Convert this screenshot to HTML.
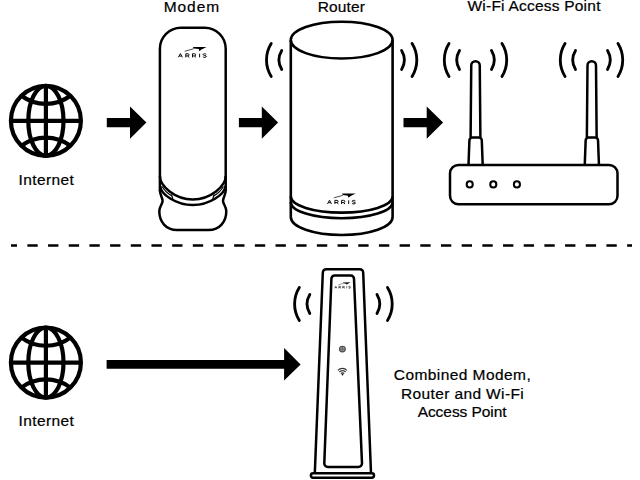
<!DOCTYPE html>
<html><head><meta charset="utf-8">
<style>
html,body{margin:0;padding:0;background:#fff;width:640px;height:480px;overflow:hidden}
svg{position:absolute;left:0;top:0}
text{font-family:"Liberation Sans",sans-serif;fill:#000;stroke:#000;stroke-width:0.22}
</style></head><body>
<svg width="640" height="480" viewBox="0 0 640 480">
<defs>
<g id="globe" fill="none" stroke="#000" stroke-width="4.2">
  <circle cx="0" cy="0" r="35"/>
  <ellipse cx="0" cy="0" rx="17.6" ry="35"/>
  <line x1="0" y1="-35" x2="0" y2="35"/>
  <line x1="-35" y1="0" x2="35" y2="0"/>
  <path d="M-24.5,-25 A41 41 0 0 0 24.5,-25"/>
  <path d="M-24.5,25 A41 41 0 0 1 24.5,25"/>
</g>
<g id="wl" fill="none" stroke="#000" stroke-width="2.85" stroke-linecap="round">
  <path d="M-15.99,-9.5 A18.6 18.6 0 0 0 -15.99,9.5"/>
  <path d="M-26.48,-16.5 A31.2 31.2 0 0 0 -26.48,16.5"/>
</g>
<g id="wr" fill="none" stroke="#000" stroke-width="2.85" stroke-linecap="round">
  <path d="M15.99,-9.5 A18.6 18.6 0 0 1 15.99,9.5"/>
  <path d="M26.48,-16.5 A31.2 31.2 0 0 1 26.48,16.5"/>
</g>
<g id="arris">
  <g fill="none" stroke="#000" stroke-width="0.95" stroke-linejoin="miter">
    <path d="M0.4,0 L2.4,-3.7 L4.4,0 M1.2,-1.2 H3.6"/>
    <path d="M7.8,0.1 V-3.55 H9.9 A1.1 1.1 0 0 1 9.9,-1.35 H7.8 M9.6,-1.35 L11.3,0.1"/>
    <path d="M14.5,0.1 V-3.55 H16.6 A1.1 1.1 0 0 1 16.6,-1.35 H14.5 M16.3,-1.35 L18,0.1"/>
    <path d="M21.6,0.1 V-3.6"/>
    <path d="M28.3,-3 C27.8,-3.7 25,-3.8 25,-2.7 C25,-1.6 28.5,-2 28.5,-0.9 C28.5,0.2 25.5,0.3 24.9,-0.5"/>
  </g>
  <path d="M6.7,-6 L15.8,-8.6" fill="none" stroke="#000" stroke-width="0.7"/>
  <path d="M14.9,-10.3 L28.5,-10.4 L23.6,-7.9 L21.3,-6.1 L20.8,-8.2 L15.8,-8.8 Z" fill="#000"/>
</g>
</defs>

<!-- labels -->
<text x="163.7" y="11.6" font-size="15.5" letter-spacing="0.93">Modem</text>
<text x="317.8" y="11.5" font-size="15.5" letter-spacing="0.13">Router</text>
<text x="467.5" y="11.3" font-size="15.5" letter-spacing="0.22">Wi-Fi Access Point</text>
<text x="18.6" y="185.2" font-size="15.5" letter-spacing="0.39">Internet</text>
<text x="18.6" y="426" font-size="15.5" letter-spacing="0.39">Internet</text>
<text x="462.5" y="379.5" font-size="15.5" text-anchor="middle" letter-spacing="0.43">Combined Modem,</text>
<text x="462.6" y="398.5" font-size="15.5" text-anchor="middle" letter-spacing="0.37">Router and Wi-Fi</text>
<text x="462.1" y="416.9" font-size="15.5" text-anchor="middle" letter-spacing="-0.06">Access Point</text>

<!-- globes -->
<use href="#globe" x="45.9" y="120.8"/>
<use href="#globe" x="45.9" y="362.6"/>

<!-- arrows -->
<path d="M106.8,118 H130 V106.5 L146.4,122.6 L130,138.75 V127.3 H106.8 Z" fill="#000"/>
<path d="M238.9,118 H261.8 V106.5 L278.1,122.6 L261.8,138.75 V127.3 H238.9 Z" fill="#000"/>
<path d="M403.5,118 H426.7 V106.5 L443.1,122.6 L426.7,138.75 V127.3 H403.5 Z" fill="#000"/>
<path d="M106.6,360 H284.1 V348.1 L300.6,364.4 L284.1,380.6 V368.75 H106.6 Z" fill="#000"/>

<!-- dashed line -->
<line x1="11" y1="245.5" x2="632" y2="245.5" stroke="#000" stroke-width="2.5" stroke-dasharray="10.34 10.34" stroke-dashoffset="4.3"/>

<!-- modem -->
<g fill="none" stroke="#000" stroke-width="2.5" stroke-linejoin="round">
  <path d="M159.9,191 L159.9,48.8 A21 21 0 0 1 180.9,27.8 L204.7,27.8 A21 21 0 0 1 225.7,48.8 L225.7,191"/>
  <path d="M159.9,190 C159.9,195.5 162.6,197.5 162.6,201 C162.6,204 159.3,206.5 159.3,211 C159.3,222 166,230 177,230 L208.6,230 C219.6,230 226.3,222 226.3,211 C226.3,206.5 223,204 223,201 C223,197.5 225.7,195.5 225.7,190"/>
  <path d="M159.9,176 C159.9,186 174.8,199.4 192.8,199.4 C210.8,199.4 225.7,186 225.7,176"/>
  <path d="M160.3,186 C160.3,194 176,205 192.8,205 C209.6,205 225.3,194 225.3,186"/>
</g>
<g fill="none" stroke="#000" stroke-width="1.2">
  <path d="M162.2,186.5 C164,190 167,193 171.8,196"/>
  <path d="M171.5,194.3 L172.8,199"/>
  <path d="M223.4,186.5 C221.6,190 218.6,193 213.8,196"/>
  <path d="M214.1,194.3 L212.8,199"/>
</g>
<use href="#arris" x="178" y="57.3"/>

<!-- router -->
<g fill="none" stroke="#000" stroke-width="2.6">
  <ellipse cx="341.7" cy="40.1" rx="50.9" ry="18.4"/>
  <path d="M290.8,40 L290.8,217 A50.9 18 0 0 0 392.6,217 L392.6,40"/>
  <path d="M290.8,196.6 A50.9 16 0 0 0 392.6,196.6"/>
  <path d="M290.8,202.3 A50.9 16 0 0 0 392.6,202.3"/>
</g>
<use href="#wl" x="297.7" y="60"/>
<use href="#wr" x="385.6" y="60"/>
<use href="#arris" x="327.1" y="203.9"/>

<!-- access point -->
<g fill="none" stroke="#000" stroke-width="2.5" stroke-linejoin="round">
  <path d="M470.6,137.6 L471.25,65.5 A4.25 4.25 0 0 1 479.75,65.5 L480.4,137.6"/>
  <path d="M468.5,165 L469.4,140.6 A3 3 0 0 1 472.4,137.6 L478.8,137.6 A3 3 0 0 1 481.8,140.6 L482.7,165"/>
  <path d="M586.85,137.6 L587.5,65.5 A4.25 4.25 0 0 1 596,65.5 L596.65,137.6"/>
  <path d="M584.75,165 L585.65,140.6 A3 3 0 0 1 588.65,137.6 L595.05,137.6 A3 3 0 0 1 598.05,140.6 L598.95,165"/>
  <rect x="450" y="165" width="167.5" height="39.3" rx="8.5"/>
</g>
<g fill="none" stroke="#000" stroke-width="2.05">
  <circle cx="469.7" cy="184.4" r="3.05"/>
  <circle cx="493.3" cy="184.4" r="3.05"/>
  <circle cx="516.9" cy="184.4" r="3.05"/>
</g>
<use href="#wl" x="475.5" y="60"/>
<use href="#wr" x="475.5" y="60"/>
<use href="#wl" x="591.5" y="60"/>
<use href="#wr" x="591.5" y="60"/>

<!-- combined device -->
<g fill="none" stroke="#000" stroke-width="2.5" stroke-linejoin="round">
  <path d="M314.8,473.3 L322.8,272.7 A3.5 3.5 0 0 1 326.3,269.2 L359.7,269.2 A3.5 3.5 0 0 1 363.2,272.7 L371,473.3"/>
  <path d="M327.8,466.9 A3.5 3.5 0 0 1 324.3,463.4 L331.4,279 A3.2 3.2 0 0 1 334.6,275.6 L350.8,275.6 A3.2 3.2 0 0 1 354,279 L362,463.4 A3.5 3.5 0 0 1 358.5,466.9 Z"/>
  <rect x="310.9" y="473.3" width="63.1" height="4.5" rx="2.2"/>
</g>
<use href="#wl" x="325.8" y="304"/>
<use href="#wr" x="361" y="304"/>
<circle cx="342.4" cy="349.1" r="2.9" fill="#9a9a9a" stroke="#4a4a4a" stroke-width="1.1"/>
<path d="M342.4,346.2 V352 M339.5,349.1 H345.3" stroke="#555" stroke-width="0.7" fill="none"/>
<g fill="none" stroke="#333" stroke-width="1.15">
  <path d="M337.9,370.3 A6.2 6.2 0 0 1 346.9,370.3"/>
  <path d="M339.4,372 A4.1 4.1 0 0 1 345.6,372"/>
  <path d="M340.9,373.6 A2.1 2.1 0 0 1 344.1,373.6"/>
</g>
<circle cx="342.5" cy="374.6" r="0.9" fill="#111"/>
<use href="#arris" transform="translate(334.4,288.3) scale(0.57)"/>
</svg>
</body></html>
